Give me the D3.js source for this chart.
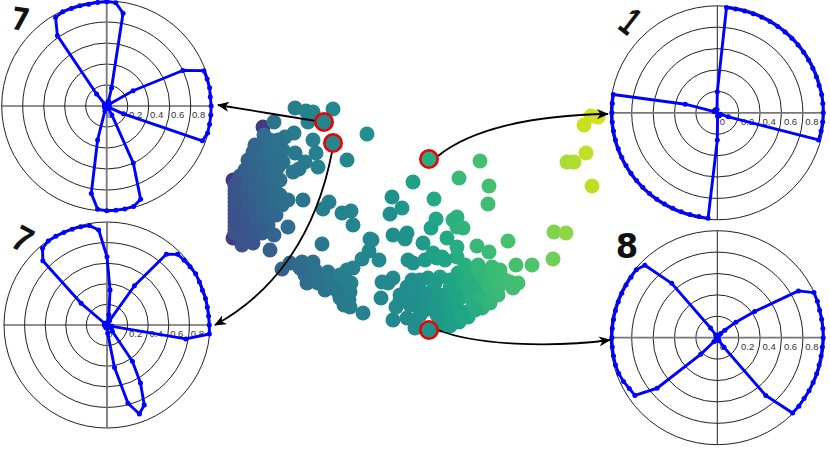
<!DOCTYPE html>
<html>
<head>
<meta charset="utf-8">
<script src="https://cdn.jsdelivr.net/npm/d3@7"></script>
<style>
html,body{margin:0;padding:0;background:#fff;}
svg{display:block;}
</style>
</head>
<body>
<svg id="chart" width="830" height="451"></svg>
<script>
// Radial profile of each sample, one value every 5 degrees, counter-clockwise from east (12 values per row = 60 degrees)
const angles = d3.range(0, 360, 5);
const profileTopLeft = [
.995,.99,.995,.99,.985,.80,.29,.03,.02,.02,.02,.02,
.03,.04,.05,.178,.897,.988,.994,.99,.985,.988,.988,.99,
.974,.818,.15,.03,.02,.02,.02,.02,.02,.02,.02,.02,
.02,.02,.02,.02,.02,.02,.02,.02,.02,.02,.02,.02,
.02,.03,.05,.335,.845,.988,.997,.997,.995,.99,.946,.60,
.098,.03,.02,.02,.02,.02,.03,.176,.97,.995,.995,.995];
const profileBottomLeft = [
.993,.99,.989,.99,.986,.99,.994,.985,.978,.97,.896,.465,
.05,.03,.03,.03,.1,.34,.663,.926,.98,.988,.99,.992,
.995,.995,.974,.881,.328,.03,.02,.02,.02,.02,.02,.02,
.02,.02,.02,.02,.02,.02,.02,.02,.02,.02,.02,.02,
.02,.02,.02,.02,.03,.03,.03,.08,.42,.787,.92,.856,
.65,.43,.08,.03,.03,.03,.03,.03,.05,.05,.777,.998];
const profileTopRight = [
.99,.99,.99,.985,.985,.985,.985,.985,.985,.985,.985,.985,
.985,.985,.985,.985,.985,.988,.196,.03,.03,.03,.03,.03,
.03,.03,.03,.03,.03,.03,.03,.03,.03,.31,.987,.985,
.985,.985,.985,.985,.985,.985,.985,.985,.985,.985,.985,.985,
.985,.985,.985,.985,.985,.99,.255,.03,.03,.03,.03,.03,
.03,.03,.03,.03,.03,.03,.03,.03,.11,.98,.985,.988];
const profileBottomRight = [
.99,.99,.99,.99,.995,.997,.875,.426,.226,.1,.05,.03,
.02,.02,.02,.02,.02,.02,.02,.02,.02,.02,.02,.02,
.03,.11,.663,.957,.988,.985,.985,.985,.985,.985,.985,.985,
.985,.985,.985,.985,.98,.967,.95,.94,.735,.22,.05,.03,
.02,.02,.02,.02,.02,.02,.02,.02,.02,.02,.02,.02,
.03,.11,.705,.995,.995,.99,.99,.988,.988,.985,.985,.985];
const radialTicks = [0.2, 0.4, 0.6, 0.8, 1.0];
const tickLabels = ["0.2", "0.4", "0.6", "0.8"];
const digitLabels = ["7", "7", "1", "8"];

// 2-D embedding: first and second component
const scatter = [
[23.5,21.4],[23.5,21],[23.5,20.6],[23.5,20.2],[23.5,19.8],[23.5,19.4],[23.5,19],[23.5,18.6],[23.5,18.2],[23.5,17.8],[23.5,17.4],[23.5,17],[23.5,16.7],
[24,22.4],[24,21.6],[24,20.8],[24,20],[24,19.2],[24,18.4],[24,17.6],[24,16.8],[23.6,21.6],[24.5,23],[25.3,24.8],
[24.8,24],[24.8,23.2],[24.8,22.4],[24.8,21.6],[24.8,20.8],[24.8,20],[24.8,19.2],[24.8,18.4],[24.8,17.6],[24.8,16.8],[24.8,16.2],
[25.6,25],[25.6,24.2],[25.6,23.4],[25.6,22.6],[25.6,21.8],[25.6,21],[25.6,20.2],[25.6,19.4],[25.6,18.6],[25.6,17.8],[25.6,17],
[26.4,26.5],[26.4,25.7],[26.4,24.9],[26.4,24.1],[26.4,23.3],[26.4,22.5],[26.4,21.7],[26.4,20.9],[26.4,20.1],[26.4,19.3],[26.4,18.5],[26.4,17.7],
[27.2,25],[27.2,24.2],[27.2,23.4],[27.2,22.6],[27.2,21.8],[27.2,21],[27.2,20.2],[27.2,19.4],[27.2,18.8],
[27.6,24],[27.6,22.4],[27.6,20.8],[27.6,19.6],
[27,26],[27.8,24.5],[28.3,25],[25.5,25.5],[28,22],[28,20.5],[27.6,18.5],[25.5,16.5],[26.8,17.5],[26.2,16.7],
[29.5,29.2],[30.6,28.9],[31.3,28.8],[33.3,29.1],[30.8,27.8],[27.4,27.8],[29.4,26.7],[28.5,26.3],[27.8,26],[36.7,26.6],[31.3,26],[29.5,24.7],[31.6,24.7],[34.7,24],[30.5,23.8],[31.8,23.3],[29.9,23.1],[29.3,22.8],[27,25.2],[27.7,25.5],[28.3,23.8],[27.8,23.3],[30.3,20],[28.8,20],[28.2,19.5],[32.9,19.8],[32.3,19.1],[34.2,18.7],[35.1,18.9],[35.3,17.5],[28.8,17.3],[27.4,16.5],[27,15],[25.3,15.7],[24.2,15.5],[32.2,15.6],[37,16.1],[36.9,14.9],[37.9,14],[36.2,14.1],[35.3,13.2],[34.7,13],[28.2,13.1],[29,13.7],[30.2,13.8],[31.3,13.8],[30.7,11.7],[30.3,13],[32.3,12.3],[32.5,11],[33.8,11.5],[35.1,11.7],[34,10.2],[34.9,10],[35,9.3],[36.3,8.7],[31.3,12.2],[33.2,11.3],[31.5,13],
[30.5,12.5],[31.8,11.7],[33,12],[34.5,11.7],[33.8,10.8],[35,10.8],[34.4,9.5],[30,13.2],[32.8,12.8],[34,12.5],
[39.2,20.3],[39,18.6],[40.2,19.2],[41.3,21.8],[43.4,20.1],[45.9,22.2],[48,23.9],[48.9,21.4],[48.8,19.6],[43.6,18.1],[43.1,17.2],[45.7,18.3],[45.3,18],[45.7,17.3],[46.3,17.2],[39.3,16.5],[40.7,16.7],[40.5,16.1],[37.2,16],[42.3,15.7],[44.7,16.2],[45.7,15.3],[45.7,14.3],[47.7,15.4],[48.9,14.8],[50.8,15.9],[55.4,16.8],[56.6,16.7],[55.3,14.1],[53.2,13.5],[51.6,13.5],[51.8,11.7],[51.3,11.2],
[40.8,14],[41.3,13.7],[42.5,14],[43.7,14.2],[44.5,14],[43.3,14.7],[44.2,14.3],[38.2,11.8],[39.3,12.2],[38.8,11.7],[38.1,10.2],[40.7,11.3],[42.8,12.2],[44,12.3],[45.7,12.3],[46.7,12.5],[42,11],[41.3,10.5],[43.3,11],[45,11.2],[46,11.2],[46.7,11.2],[39.6,9.3],[39.3,8],[40.7,8.2],[41.7,9.5],[43,9.7],[42,8.5],[43.7,8.5],[44.7,8],[45.9,7.8],[45.7,9.2],[44.3,9.5],[46.7,8.8],[50.5,12],[49.2,13.3],[50,13],[49.5,12.5],[48.3,12],[47.2,12.7],[45.8,12.7],[48.2,11.2],[48.8,10.3],[49.8,10.5],[48.2,9.2],[46.8,8.3],[46,10.2],[44.7,10.2],[47.3,9.8],[48.8,11.5],[47.5,11],[41.5,7.8],
[40,10],[41,9.5],[42.5,10.5],[44,10.5],[45.5,10.5],[47,10.5],[48,10.3],[42.5,9],[43.5,9.5],[45,8.8],[46,8.8],[47.5,9],[47,12],[48,12.8],[49,12],[50,11.5],[51,11.8],[42,12],[43.5,11.7],[45,12],[46.5,13.5],[47.8,13.5],[41.5,7.2],[44,7.5],[45,7.4],[46.2,8.4],[49,9.7],[40,10.5],[41.2,12],
[58.6,24.7],[56.7,23.8],[57.4,23.8],[59.2,21.4],[59.1,28.4],[59.8,28.3],[58.4,27.5]
];
const darkPoints = [[26.3,27.3],[23.3,22],[23.3,16.2],[24,16.2]];
const highlighted = [[32.4,27.8],[33.3,25.7],[42.9,24.1],[42.9,7]];

const svg = d3.select("#chart");
const W = 830;
const x = d3.scaleLinear().domain([0, 83]).range([0, W]);
const y = d3.scaleLinear().domain([0, 40]).range([400, 0]);
const colorT = d3.scaleLinear()
  .domain([29.5, 32, 38.3, 45, 50.1, 52.3, 57.2, 61, 67.4])
  .range([.25, .31, .43, .5, .62, .67, .72, .82, .93]).clamp(true);
const colorOf = d => d3.interpolateViridis(colorT(d[0] + .3 * d[1]));

// Scatter
const dotR = 7.5;
svg.append("g").selectAll("circle").data(darkPoints).join("circle")
  .attr("cx", d => x(d[0])).attr("cy", d => y(d[1])).attr("r", dotR)
  .attr("fill", d3.interpolateViridis(.17));
svg.append("g").selectAll("circle").data(scatter).join("circle")
  .attr("cx", d => x(d[0])).attr("cy", d => y(d[1])).attr("r", dotR)
  .attr("fill", colorOf);

// Radial panels
const angleScale = d3.scaleLinear().domain([0, 360]).range([Math.PI / 2, Math.PI / 2 - 2 * Math.PI]);
const panels = [
  {values: profileTopLeft, cx: 106.7, cy: 106, R: 105, grayAxis: "v", labelDx: 8, labelDy: 9, zeroDx: 3},
  {values: profileBottomLeft, cx: 107, cy: 325, R: 103, grayAxis: "v", labelDx: 8, labelDy: 9, zeroDx: 3},
  {values: profileTopRight, cx: 717.3, cy: 112.8, R: 107, grayAxis: "h", labelDx: 9, labelDy: 9.5, zeroDx: 5},
  {values: profileBottomRight, cx: 717.3, cy: 337.7, R: 107, grayAxis: "h", labelDx: 9, labelDy: 9.5, zeroDx: 5}
];
panels.forEach(p => {
  const r = d3.scaleLinear().domain([0, 1]).range([0, p.R]);
  const g = svg.append("g").attr("transform", `translate(${p.cx},${p.cy})`);
  g.selectAll("circle.ring").data(radialTicks).join("circle").attr("class", "ring")
    .attr("r", d => r(d)).attr("fill", "none").attr("stroke", "#222").attr("stroke-width", 1);
  g.append("line").attr("x1", -p.R).attr("x2", p.R)
    .attr("stroke", p.grayAxis === "h" ? "#777" : "#222")
    .attr("stroke-width", p.grayAxis === "h" ? 1.8 : 1);
  g.append("line").attr("y1", -p.R).attr("y2", p.R)
    .attr("stroke", p.grayAxis === "v" ? "#777" : "#222")
    .attr("stroke-width", p.grayAxis === "v" ? 1.8 : 1);
  g.selectAll("text.tick").data(tickLabels).join("text").attr("class", "tick")
    .attr("x", (d, i) => r(radialTicks[i]) + p.labelDx).attr("y", p.labelDy + 3)
    .attr("text-anchor", "middle").attr("font-family", "Liberation Sans, sans-serif")
    .attr("font-size", 9.5).attr("fill", "#333").text(d => d);
  g.append("text").attr("x", p.zeroDx).attr("y", p.labelDy + 3).attr("text-anchor", "middle")
    .attr("font-family", "Liberation Sans, sans-serif").attr("font-size", 9.5).attr("fill", "#333").text("0");
  const line = d3.lineRadial().curve(d3.curveLinearClosed)
    .angle((d, i) => angleScale(angles[i])).radius(d => r(d));
  g.append("path").attr("d", line(p.values)).attr("fill", "none")
    .attr("stroke", "#0000ff").attr("stroke-width", 2.9).attr("stroke-linejoin", "round");
  g.selectAll("circle.pt").data(p.values).join("circle").attr("class", "pt")
    .attr("transform", (d, i) => {
      const [px, py] = d3.pointRadial(angleScale(angles[i]), r(d));
      return `translate(${px},${py})`;
    })
    .attr("r", 2.5).attr("fill", "#0000ff");
});

// Digit thumbnails
const digitStyle = [
  {tx: 19, ty: 30, rot: 8, sx: .95, sy: 1.15, size: 27, font: "DejaVu Sans"},
  {tx: 17, ty: 250, rot: 28, sx: .9, sy: 1, size: 36, font: "Liberation Sans"},
  {tx: 622, ty: 32, rot: 38, sx: .7, sy: 1.1, size: 36, font: "Liberation Sans"},
  {tx: 627, ty: 258, rot: 0, sx: .95, sy: 1, size: 34, font: "DejaVu Sans"}
];
svg.append("g").selectAll("text").data(digitLabels).join("text")
  .attr("transform", (d, i) => `translate(${digitStyle[i].tx},${digitStyle[i].ty}) rotate(${digitStyle[i].rot}) scale(${digitStyle[i].sx},${digitStyle[i].sy})`)
  .attr("text-anchor", "middle").attr("font-family", (d, i) => digitStyle[i].font)
  .attr("font-weight", "bold").attr("font-size", (d, i) => digitStyle[i].size)
  .attr("fill", "#111").text(d => d);

// Connector arrows
svg.append("defs").append("marker").attr("id", "head")
  .attr("viewBox", "0 0 12 10").attr("refX", 11).attr("refY", 5)
  .attr("markerWidth", 12).attr("markerHeight", 10).attr("markerUnits", "userSpaceOnUse")
  .attr("orient", "auto")
  .append("path").attr("d", "M0,0 L12,5 L0,10 L3.5,5 Z").attr("fill", "#000");
const curves = [
  [[322, 122], [290, 117], [250, 110], [218, 105]],
  [[332, 152], [315, 240], [270, 295], [215, 325]],
  [[438, 156], [470, 130], [530, 115], [608, 114]],
  [[438, 330], [475, 345], [550, 348], [610, 340]]
];
svg.append("g").selectAll("path").data(curves).join("path")
  .attr("d", c => {
    const pth = d3.path();
    pth.moveTo(c[0][0], c[0][1]);
    pth.bezierCurveTo(c[1][0], c[1][1], c[2][0], c[2][1], c[3][0], c[3][1]);
    return pth.toString();
  })
  .attr("fill", "none").attr("stroke", "#000").attr("stroke-width", 1.8).attr("marker-end", "url(#head)");

// Highlighted samples
svg.append("g").selectAll("circle").data(highlighted).join("circle")
  .attr("cx", d => x(d[0])).attr("cy", d => y(d[1])).attr("r", 8.7)
  .attr("fill", colorOf).attr("stroke", "#f00000").attr("stroke-width", 2.6);
</script>
</body>
</html>
